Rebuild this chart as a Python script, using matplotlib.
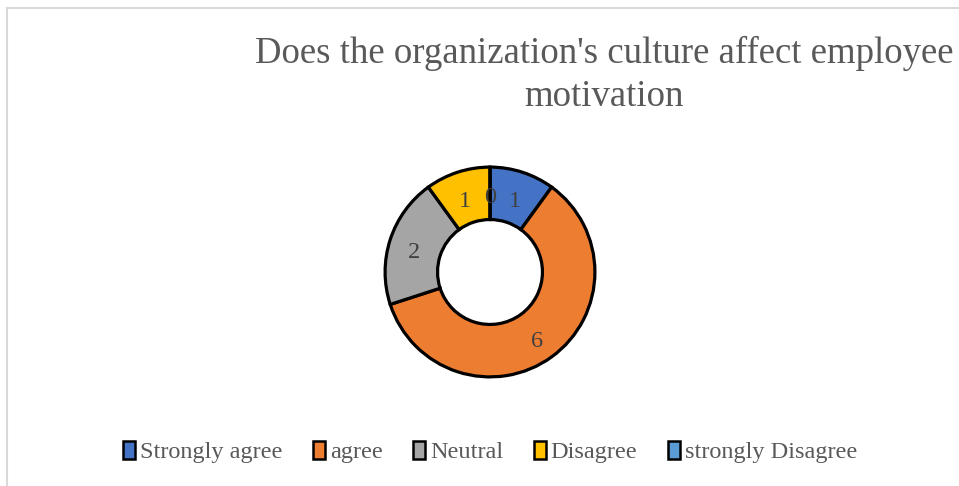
import numpy as np
import matplotlib.pyplot as plt
from matplotlib.lines import Line2D

# survey answers
categories = ["Strongly agree", "agree", "Neutral", "Disagree", "strongly Disagree"]
counts = [1, 6, 2, 1, 0]
colors = ["#4472C4", "#ED7D31", "#A5A5A5", "#FFC000", "#5B9BD5"]
title = "Does the organization's culture affect employee\nmotivation"

W, H = 959, 486
fig = plt.figure(figsize=(W / 100, H / 100), dpi=100, facecolor="w")

# chart frame (only left and top edges show in the crop)
fig.add_artist(Line2D([7 / W, 7 / W], [0, 1 - 8 / H], color="#d9d9d9", lw=1.5))
fig.add_artist(Line2D([7 / W, 1], [1 - 8 / H, 1 - 8 / H], color="#d9d9d9", lw=1.5))

fig.text(604 / W, 1 - 75 / H, title, ha="center", va="center",
         family="Liberation Serif", fontsize=26.5, color="#595959", linespacing=1.35)

cx, cy, r = 490, 272, 107
ax = fig.add_axes([(cx - r) / W, (H - cy - r) / H, 2 * r / W, 2 * r / H])
wedges, _ = ax.pie(
    counts, colors=colors, startangle=90, counterclock=False, radius=1,
    wedgeprops=dict(width=0.5, edgecolor="black", linewidth=2.3),
)
ax.set_xlim(-1.02, 1.02)
ax.set_ylim(-1.02, 1.02)
ax.set_aspect("auto")
ax.axis("off")

# value labels sit in the middle of the ring
for v, w in zip(counts, wedges):
    mid = np.deg2rad((w.theta1 + w.theta2) / 2)
    ax.text(0.76 * np.cos(mid), 0.76 * np.sin(mid) - 0.05, str(v), ha="center", va="center",
            family="Liberation Serif", fontsize=17.5, color="#404040")

handles = [plt.Rectangle((0, 0), 1, 1, facecolor=c, edgecolor="black", lw=1.8) for c in colors]
fig.legend(handles, categories, loc="center", bbox_to_anchor=(490 / W, 1 - 452 / H), ncol=5,
           frameon=False, handlelength=0.5, handleheight=0.75, handletextpad=0.2,
           columnspacing=1.25, prop=dict(family="Liberation Serif", size=17.5),
           labelcolor="#595959")

fig.savefig("out.png", dpi=100)
